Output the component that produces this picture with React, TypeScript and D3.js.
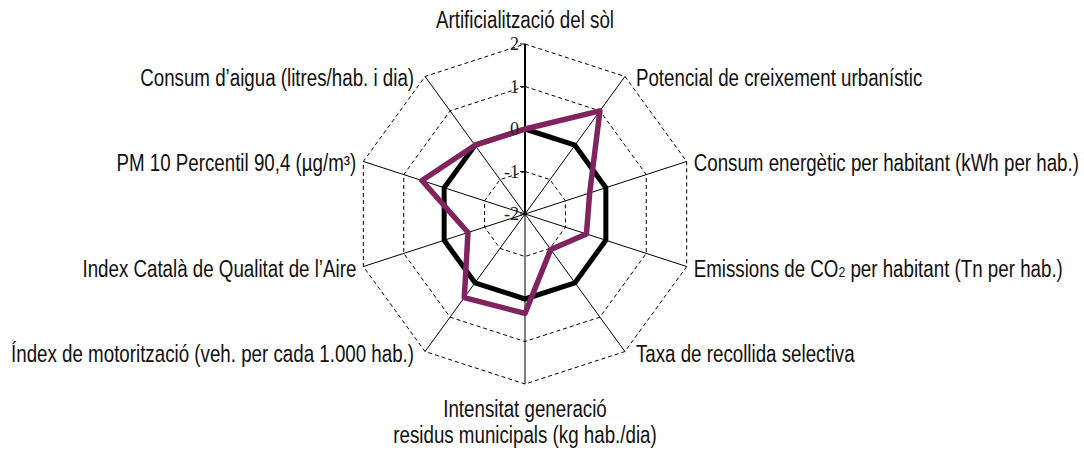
import * as d3 from 'd3';

const labels: string[][] = [
  ['Artificialització del sòl'],
  ['Potencial de creixement urbanístic'],
  ['Consum energètic per habitant (kWh per hab.)'],
  ['Emissions de CO|2| per habitant (Tn per hab.)'],
  ['Taxa de recollida selectiva'],
  ['Intensitat generació', 'residus municipals (kg hab./dia)'],
  ['Índex de motorització (veh. per cada 1.000 hab.)'],
  ['Index Català de Qualitat de l’Aire'],
  ['PM 10 Percentil 90,4 (µg/m³)'],
  ['Consum d’aigua (litres/hab. i dia)'],
];

const referencia = [0, 0, 0, 0, 0, 0, 0, 0, 0, 0];
const municipi = [0, 1.0, -0.4, -0.48, -0.97, 0.34, 0.43, -0.59, 0.55, 0.0];
const ticks = [-2, -1, 0, 1, 2];

const width = 1084;
const height = 452;
const cx = 525;
const cy = 214;
const R = 170;
const font = '"Liberation Sans", Arial, sans-serif';
const squeeze = 0.815;

export default function App() {
  const n = labels.length;
  const r = d3.scaleLinear().domain([-2, 2]).range([0, R]);
  const angle = (i: number) => (i * 2 * Math.PI) / n;
  const pt = (i: number, rad: number): [number, number] => [
    cx + rad * Math.sin(angle(i)),
    cy - rad * Math.cos(angle(i)),
  ];

  const radar = d3
    .lineRadial<number>()
    .angle((d, i) => angle(i))
    .radius((d) => r(d))
    .curve(d3.curveLinearClosed);

  const ring = (v: number) =>
    d3.range(n).map((i) => pt(i, r(v)).join(',')).join(' ');

  return (
    <svg
      width={width}
      height={height}
      style={{ position: 'absolute', left: 0, top: 0, background: '#fff' }}
    >
      {/* rings */}
      <g fill="none" stroke="#000" strokeWidth="1" strokeDasharray="4,3">
        {ticks.slice(1).map((t) => (
          <polygon key={t} points={ring(t)} />
        ))}
      </g>
      {/* spokes */}
      <g stroke="#000" strokeWidth="1">
        {d3.range(1, n).map((i) => {
          const [x, y] = pt(i, R);
          return <line key={i} x1={cx} y1={cy} x2={x} y2={y} />;
        })}
      </g>
      <line x1={cx} y1={cy} x2={cx} y2={cy - R} stroke="#000" strokeWidth="2" />
      <g stroke="#000" strokeWidth="1">
        {ticks.map((t) => (
          <line key={t} x1={cx - 5} x2={cx} y1={cy - r(t)} y2={cy - r(t)} />
        ))}
      </g>

      <g transform={`translate(${cx},${cy})`} fill="none" strokeLinejoin="round">
        <path d={radar(referencia) ?? ''} stroke="#000" strokeWidth="5" />
        <path d={radar(municipi) ?? ''} stroke="#80235f" strokeWidth="5.5" />
      </g>

      {/* tick labels */}
      {ticks.map((t) => (
        <text
          key={t}
          x={cx - 6}
          y={cy - r(t) + 6}
          fontFamily='"Liberation Serif", "DejaVu Serif", serif'
          fontSize={18}
          fill="#222"
          textAnchor="end"
        >
          {t}
        </text>
      ))}

      {/* axis labels */}
      <g fontFamily={font} fontSize="23" fill="#111">
        {labels.map((lines, i) => {
          const [vx, vy] = pt(i, R);
          const s = Math.sin(angle(i));
          const anchor = s > 0.1 ? 'start' : s < -0.1 ? 'end' : 'middle';
          const off = Math.abs(s) > 0.9 ? 7 : Math.abs(s) > 0.1 ? 11 : 0;
          const x = vx + Math.sign(Math.round(s * 10)) * off;
          let y = vy + 10;
          if (i === 0) y = vy - 16;
          if (i === 5) y = vy + 33;
          return (
            <g key={i} transform={`translate(${x},${y}) scale(${squeeze},1)`}>
              <text textAnchor={anchor}>
                {lines.map((ln, j) => {
                  const parts = ln.split('|');
                  return (
                    <tspan key={j} x={0} dy={j === 0 ? 0 : 26}>
                      {parts.map((p, k) =>
                        k % 2 === 1 ? (
                          <tspan key={k} fontSize="15">
                            {p}
                          </tspan>
                        ) : (
                          <tspan key={k}>{p}</tspan>
                        )
                      )}
                    </tspan>
                  );
                })}
              </text>
            </g>
          );
        })}
      </g>
    </svg>
  );
}
